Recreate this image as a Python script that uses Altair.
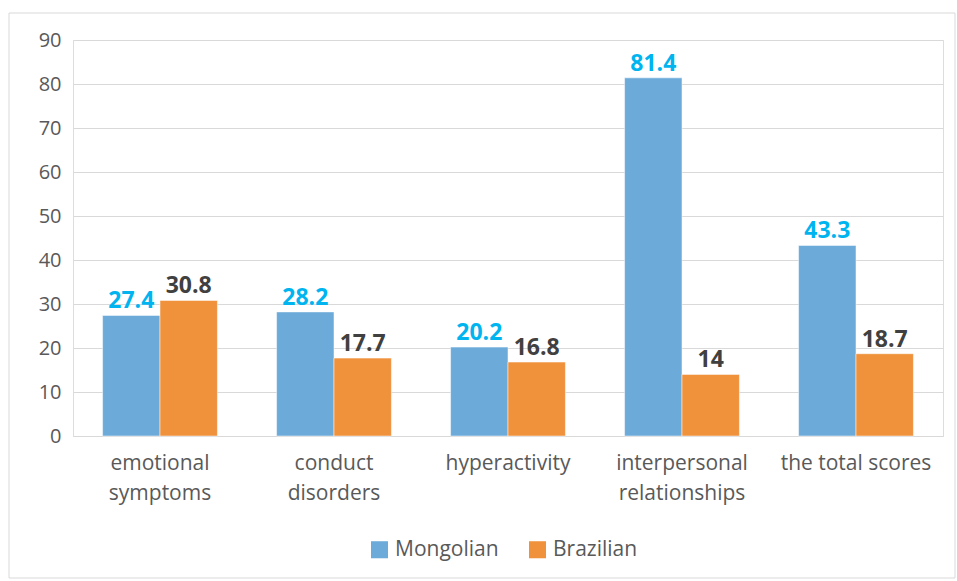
import altair as alt
import pandas as pd

# Scores by scale and group
categories = ["emotional symptoms", "conduct disorders", "hyperactivity",
              "interpersonal relationships", "the total scores"]
mongolian = [27.4, 28.2, 20.2, 81.4, 43.3]
brazilian = [30.8, 17.7, 16.8, 14.0, 18.7]
groups = ["Mongolian", "Brazilian"]

rows = []
for i, c in enumerate(categories):
    rows.append({"category": c, "group": "Mongolian", "value": mongolian[i],
                 "label": f"{mongolian[i]:g}"})
    rows.append({"category": c, "group": "Brazilian", "value": brazilian[i],
                 "label": f"{brazilian[i]:g}"})
df = pd.DataFrame(rows)

FONT = "Open Sans"
BAR_COLORS = ["#6BAAD9", "#F0913B"]
LABEL_COLORS = ["#00B4F0", "#404040"]

label_expr = (
    "datum.label == 'emotional symptoms' ? ['emotional', 'symptoms'] : "
    "datum.label == 'conduct disorders' ? ['conduct', 'disorders'] : "
    "datum.label == 'interpersonal relationships' ? ['interpersonal', 'relationships'] : "
    "datum.label"
)

x_enc = alt.X(
    "category:N", sort=categories, title=None,
    scale=alt.Scale(paddingInner=0.34, paddingOuter=0.17),
    axis=alt.Axis(labelAngle=0, labelExpr=label_expr, labelFont=FONT,
                  labelFontSize=21, labelColor="#595959", labelLineHeight=30,
                  labelPadding=16, ticks=False, domainColor="#D9D9D9",
                  labelBaseline="top"),
)
y_enc = alt.Y(
    "value:Q", title=None,
    scale=alt.Scale(domain=[0, 90]),
    axis=alt.Axis(values=list(range(0, 91, 10)), labelFont=FONT, labelFontSize=20,
                  labelColor="#595959", labelPadding=12, ticks=False,
                  domain=False, gridColor="#D9D9D9", gridWidth=1),
)
xoff = alt.XOffset("group:N", sort=groups)

bars = alt.Chart(df).mark_bar(stroke="white", strokeWidth=0.5).encode(
    x=x_enc, y=y_enc, xOffset=xoff,
    color=alt.Color(
        "group:N", sort=groups, title=None,
        scale=alt.Scale(domain=groups, range=BAR_COLORS),
        legend=alt.Legend(orient="none", legendX=296, legendY=499,
                          direction="horizontal", symbolType="square",
                          symbolSize=290, symbolStrokeWidth=0,
                          labelFont=FONT, labelFontSize=21,
                          labelColor="#595959", columnPadding=28,
                          labelOffset=5),
    ),
)

labels = alt.Chart(df).mark_text(
    baseline="bottom", dy=-2, font=FONT, fontSize=23, fontWeight="bold"
).encode(
    x=alt.X("category:N", sort=categories),
    y="value:Q",
    xOffset=xoff,
    text="label:N",
    color=alt.Color("group:N", sort=groups,
                    scale=alt.Scale(domain=groups, range=LABEL_COLORS),
                    legend=None),
)

frame = alt.Chart(pd.DataFrame({"f": [0]})).mark_rect(
    fill=None, stroke="#D9D9D9", strokeWidth=1
).encode(
    x=alt.value(-64), x2=alt.value(882), y=alt.value(-27), y2=alt.value(538)
)

chart = alt.layer(frame, bars, labels).resolve_scale(color="independent").properties(
    width=870, height=396,
    padding={"left": 73, "top": 40, "right": 14, "bottom": 145},
    autosize=alt.AutoSizeParams(type="none"),
).configure_view(stroke=None).configure(background="white")

chart.save("out.html", embed_options={"renderer": "svg", "actions": False})
